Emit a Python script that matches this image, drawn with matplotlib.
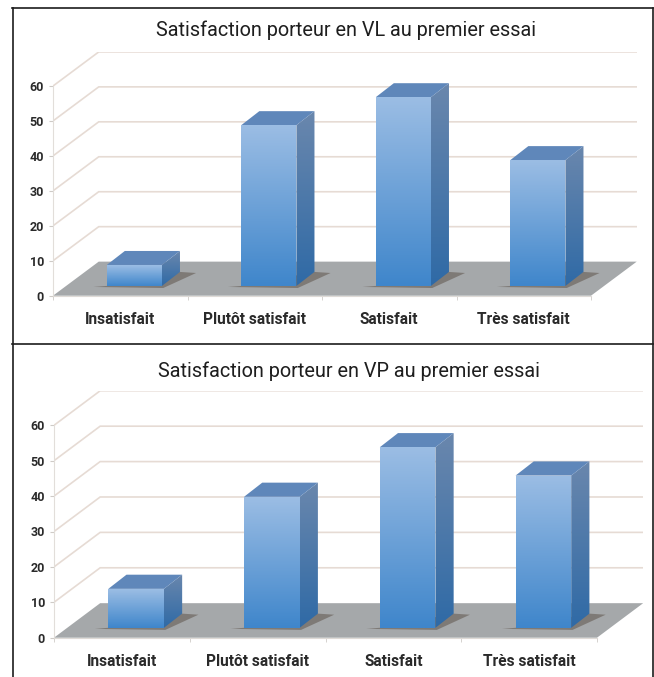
import matplotlib
matplotlib.use("Agg")
import matplotlib.pyplot as plt
import numpy as np
from matplotlib.lines import Line2D
from matplotlib.patches import Polygon

W, H = 654, 677

categories = ["Insatisfait", "Plutôt satisfait", "Satisfait", "Très satisfait"]
yticks = [0, 10, 20, 30, 40, 50, 60]

title_vl = "Satisfaction porteur en VL au premier essai"
values_vl = [6, 46, 54, 36]

title_vp = "Satisfaction porteur en VP au premier essai"
values_vp = [11, 37, 51, 43]

plt.rcParams['font.family'] = ['Roboto', 'DejaVu Sans']

# depth of the floor and of the bars, in data units
DX = 0.34
DY = 9.75
BAR_X0 = 0.40
BAR_DY0 = 2.8
BAR_W = 0.41
BAR_DX = 0.134
BAR_DY = 4.0


def grad_poly(ax, pts, top, bottom, zorder):
    pts = np.array(pts)
    c0 = np.array(matplotlib.colors.to_rgb(top))
    c1 = np.array(matplotlib.colors.to_rgb(bottom))
    t = np.linspace(0, 1, 128)[:, None, None]
    img = (c0[None, None, :] * (1 - t) + c1[None, None, :] * t)
    extent = (pts[:, 0].min(), pts[:, 0].max(), pts[:, 1].min(), pts[:, 1].max())
    im = ax.imshow(img, extent=extent, aspect='auto', origin='upper', zorder=zorder,
                   interpolation='bilinear')
    clip = Polygon(pts, closed=True, transform=ax.transData)
    im.set_clip_path(clip)


def draw_chart(x0, y0, cat_w, unit, values, title, title_x, title_y):
    # x0, y0: pixel position of the front left corner, unit: pixels for 10
    xmax = 4 + DX
    ymax = 60 + DY
    ax = fig.add_axes([x0 / W, 1 - y0 / H, xmax * cat_w / W, ymax * unit / 10 / H])
    ax.set_xlim(0, xmax)
    ax.set_ylim(0, ymax)
    ax.patch.set_alpha(0)

    for v in yticks[1:]:
        ax.plot([0, DX, xmax], [v, v + DY, v + DY], color='#e6dbd4', lw=1.2, zorder=1,
                solid_joinstyle='miter')

    # floor
    ax.add_patch(Polygon([(0, 0), (4, 0), (xmax, DY), (DX, DY)], closed=True,
                         fc='#a5a8aa', ec='none', zorder=2))

    for i, v in enumerate(values):
        l = i + BAR_X0
        r = l + BAR_W
        b = BAR_DY0
        t = b + v
        # shadow on the floor
        ax.add_patch(Polygon([(l - 0.1, b - 0.3), (r + 0.01, b - 0.6), (r + BAR_DX + 0.12, b + BAR_DY - 0.3),
                              (r + BAR_DX, b + BAR_DY), (l, b)], closed=True,
                             fc='#78726d', ec='none', alpha=0.85, zorder=3))
        grad_poly(ax, [(r, b), (r + BAR_DX, b + BAR_DY), (r + BAR_DX, t + BAR_DY), (r, t)],
                  '#6a87ad', '#2f6aa6', 4)
        ax.add_patch(Polygon([(l, t), (r, t), (r + BAR_DX, t + BAR_DY), (l + BAR_DX, t + BAR_DY)],
                             closed=True, fc='#5f87ba', ec='none', zorder=4))
        grad_poly(ax, [(l, b), (r, b), (r, t), (l, t)], '#9bbde4', '#3f86cb', 5)

    ax.set_xlim(0, xmax)
    ax.set_ylim(0, ymax)

    for s in ['top', 'right']:
        ax.spines[s].set_visible(False)
    ax.spines['left'].set_bounds(0, 60)
    ax.spines['bottom'].set_bounds(0, 4)
    ax.spines['left'].set_color('#e2deda')
    ax.spines['bottom'].set_color('#dedad6')

    ax.set_yticks(yticks)
    ax.set_yticklabels(yticks, fontsize=9, fontweight='bold', color='#2a2a2a')
    ax.tick_params(axis='y', length=3, color='#cfcbc7', pad=3.5)
    ax.set_xticks([0.5, 1.5, 2.5, 3.5])
    ax.set_xticklabels(categories, fontsize=11.2, fontweight='bold', color='#2a2a2a')
    ax.tick_params(axis='x', which='major', length=0, pad=12)
    ax.set_xticks([0, 1, 2, 3, 4], minor=True)
    ax.tick_params(axis='x', which='minor', length=3, color='#cfcbc7')

    fig.text(title_x / W, 1 - title_y / H, title, fontsize=14.3, color='#1e1e1e',
             ha='center', va='center')


fig = plt.figure(figsize=(W / 100, H / 100), dpi=100, facecolor='white')

draw_chart(53, 295.7, 134.5, 34.95, values_vl, title_vl, 346, 30)
draw_chart(54, 637.7, 135.75, 35.4, values_vp, title_vp, 349, 371)

# frame around the panels
for xs, ys in [([12.5, 12.5], [8, 677]), ([653, 653], [8, 677]), ([12, 653], [8, 8]), ([12, 653], [344, 344])]:
    fig.add_artist(Line2D([x / W for x in xs], [1 - y / H for y in ys], color='#1c1c1c', lw=1.2))

fig.savefig("out.png", dpi=100)
